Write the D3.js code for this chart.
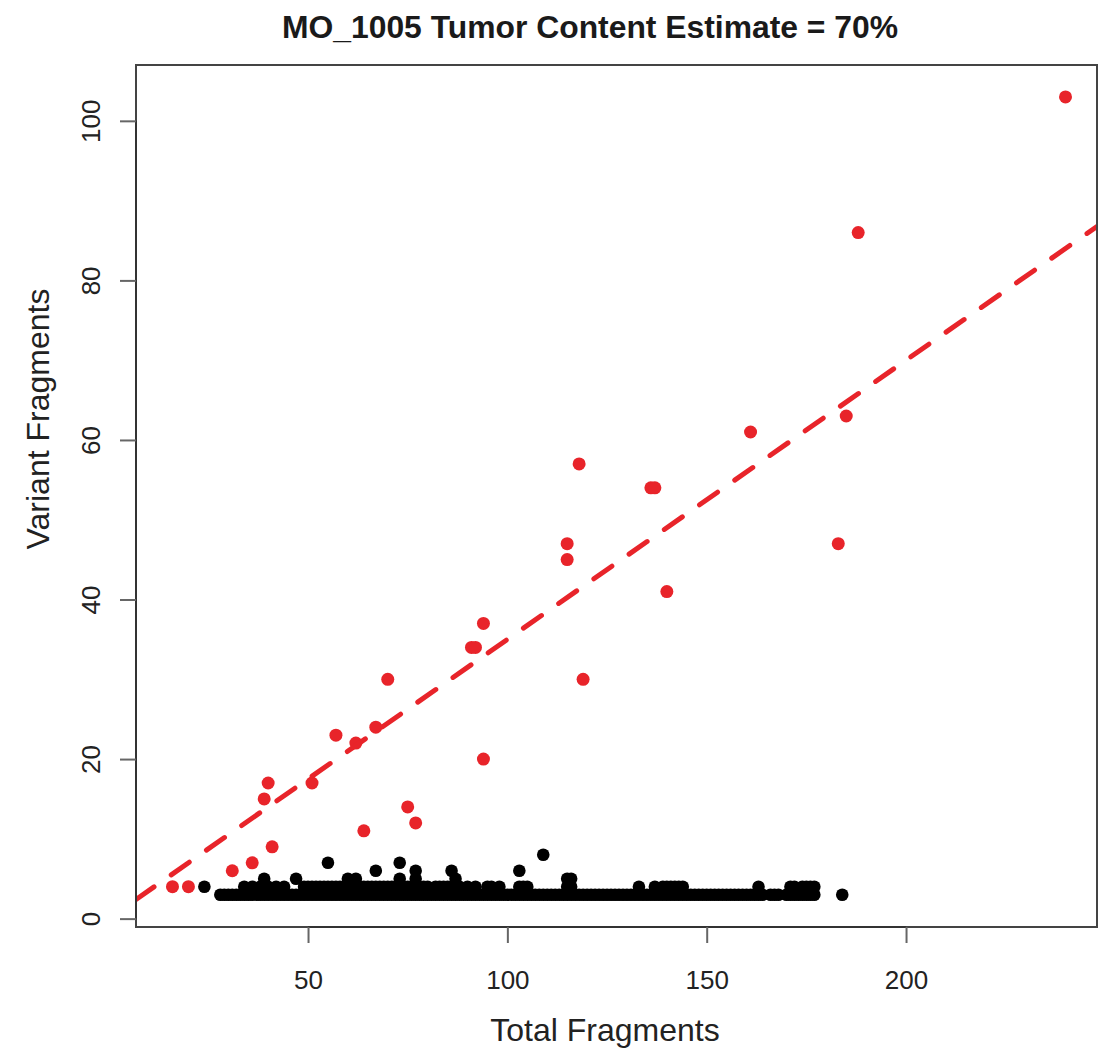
<!DOCTYPE html>
<html>
<head>
<meta charset="utf-8">
<script src="https://cdn.jsdelivr.net/npm/d3@7"></script>
<style>
  body { margin: 0; background: #fff; }
  text { font-family: "Liberation Sans", Arial, sans-serif; }
</style>
</head>
<body>
<div id="chart"></div>
<script>
// red: mutations used for the tumor content estimate
const redX = [16, 20, 31, 36, 41, 39, 40, 51, 57, 62, 67, 70, 64, 75, 77, 91, 92, 94, 94, 115, 115, 118, 119, 136, 137, 140, 161, 183, 185, 188, 240];
const redY = [4, 4, 6, 7, 9, 15, 17, 17, 23, 22, 24, 30, 11, 14, 12, 34, 34, 37, 20, 47, 45, 57, 30, 54, 54, 41, 61, 47, 63, 86, 103];

// black: background low-count variants, grouped by variant count
const blackX3 = [28, 29, 30, 31, 32, 33, 34, 35, 36, 37, 38, 39, 40, 41, 42, 43, 44, 45, 46, 47, 48, 49, 50, 51, 52, 53, 54, 55, 56, 57, 58, 59, 60, 61, 62, 63, 64, 65, 66, 67, 68, 69, 70, 71, 72, 73, 74, 75, 76, 77, 78, 79, 80, 81, 82, 83, 84, 85, 86, 87, 88, 89, 90, 91, 92, 93, 94, 95, 96, 97, 98, 99, 100, 101, 102, 103, 104, 105, 106, 107, 108, 109, 110, 111, 112, 113, 114, 115, 116, 117, 118, 119, 120, 121, 122, 123, 124, 125, 126, 127, 128, 129, 130, 131, 132, 133, 134, 135, 136, 137, 138, 139, 140, 141, 142, 143, 144, 145, 146, 147, 148, 149, 150, 151, 152, 153, 154, 155, 156, 157, 158, 159, 160, 161, 162, 163, 164, 166, 167, 168, 170, 171, 172, 173, 174, 175, 176, 177, 184];
const blackX4 = [24, 34, 36, 38, 40, 42, 44, 49, 50, 51, 52, 53, 54, 55, 56, 57, 58, 59, 60, 61, 62, 63, 64, 65, 66, 67, 68, 69, 70, 71, 72, 73, 74, 75, 76, 77, 79, 80, 82, 83, 84, 85, 86, 87, 88, 90, 92, 95, 96, 98, 103, 104, 105, 115, 116, 133, 137, 139, 140, 141, 142, 143, 144, 163, 171, 172, 174, 175, 176, 177];
const blackX5 = [39, 47, 60, 62, 73, 77, 87, 115, 116];
const blackX6 = [67, 77, 86, 103];
const blackX7 = [55, 73];
const blackX8 = [109];

const xTicks = [50, 100, 150, 200];
const yTicks = [0, 20, 40, 60, 80, 100];
const slope = 0.35; // 70% tumor content -> VAF 0.35

const titleText = "MO_1005 Tumor Content Estimate = 70%";
const xLabel = "Total Fragments";
const yLabel = "Variant Fragments";

const W = 1102, H = 1051;
const margin = { top: 65, right: 5, bottom: 124, left: 136 };

const svg = d3.select("#chart").append("svg")
  .attr("width", W)
  .attr("height", H);

const x = d3.scaleLinear()
  .domain([6.85, 247.9])
  .range([margin.left, W - margin.right]);

const y = d3.scaleLinear()
  .domain([-1.05, 107])
  .range([H - margin.bottom, margin.top]);

const red = "#e8242a";

svg.append("clipPath").attr("id", "clip")
  .append("rect")
  .attr("x", margin.left).attr("y", margin.top)
  .attr("width", W - margin.right - margin.left)
  .attr("height", H - margin.bottom - margin.top);

const black = []
  .concat(blackX3.map(v => [v, 3]))
  .concat(blackX4.map(v => [v, 4]))
  .concat(blackX5.map(v => [v, 5]))
  .concat(blackX6.map(v => [v, 6]))
  .concat(blackX7.map(v => [v, 7]))
  .concat(blackX8.map(v => [v, 8]));

const plot = svg.append("g").attr("clip-path", "url(#clip)");

plot.selectAll(".blk")
  .data(black)
  .enter().append("circle")
  .attr("cx", d => x(d[0]))
  .attr("cy", d => y(d[1]))
  .attr("r", 6.3)
  .attr("fill", "#000");

plot.selectAll(".red")
  .data(redX.map((v, i) => [v, redY[i]]))
  .enter().append("circle")
  .attr("cx", d => x(d[0]))
  .attr("cy", d => y(d[1]))
  .attr("r", 6.5)
  .attr("fill", red);

const xd = x.domain();
plot.append("line")
  .attr("x1", x(xd[0])).attr("y1", y(slope * xd[0]))
  .attr("x2", x(xd[1])).attr("y2", y(slope * xd[1]))
  .attr("stroke", red)
  .attr("stroke-width", 5)
  .attr("stroke-linecap", "round")
  .attr("stroke-dasharray", "22,21");

// box
svg.append("rect")
  .attr("x", margin.left).attr("y", margin.top)
  .attr("width", W - margin.right - margin.left)
  .attr("height", H - margin.bottom - margin.top)
  .attr("fill", "none")
  .attr("stroke", "#444")
  .attr("stroke-width", 2);

// axes
const xAxis = svg.append("g")
  .attr("transform", `translate(0,${H - margin.bottom})`)
  .call(d3.axisBottom(x).tickValues(xTicks).tickSize(16).tickPadding(28).tickSizeOuter(0));
xAxis.select(".domain")
  .attr("d", `M${x(xTicks[0])},0H${x(xTicks[xTicks.length - 1])}`)
  .attr("stroke", "#333").attr("stroke-width", 2);
xAxis.selectAll(".tick line").attr("stroke", "#666").attr("stroke-width", 2);
xAxis.selectAll(".tick text")
  .attr("font-size", 26).attr("fill", "#222")
  .style("font-family", "'Liberation Sans', Arial, sans-serif");

const yAxis = svg.append("g")
  .attr("transform", `translate(${margin.left},0)`)
  .call(d3.axisLeft(y).tickValues(yTicks).tickSize(16).tickSizeOuter(0));
yAxis.select(".domain")
  .attr("d", `M0,${y(yTicks[0])}V${y(yTicks[yTicks.length - 1])}`)
  .attr("stroke", "#333").attr("stroke-width", 2);
yAxis.selectAll(".tick line").attr("stroke", "#666").attr("stroke-width", 2);
yAxis.selectAll(".tick text")
  .attr("x", null).attr("dy", null)
  .attr("transform", "translate(-36,0) rotate(-90)")
  .attr("text-anchor", "middle")
  .attr("font-size", 26).attr("fill", "#222")
  .style("font-family", "'Liberation Sans', Arial, sans-serif");

// title and labels
svg.append("text")
  .attr("x", 590).attr("y", 38)
  .attr("text-anchor", "middle")
  .attr("font-size", 31)
  .attr("font-weight", "bold")
  .attr("fill", "#1a1a1a")
  .attr("textLength", 616)
  .attr("lengthAdjust", "spacingAndGlyphs")
  .text(titleText);

svg.append("text")
  .attr("x", 605).attr("y", 1041)
  .attr("text-anchor", "middle")
  .attr("font-size", 32)
  .attr("fill", "#222")
  .text(xLabel);

svg.append("text")
  .attr("transform", `translate(49,419) rotate(-90)`)
  .attr("text-anchor", "middle")
  .attr("font-size", 32)
  .attr("fill", "#222")
  .text(yLabel);
</script>
</body>
</html>
